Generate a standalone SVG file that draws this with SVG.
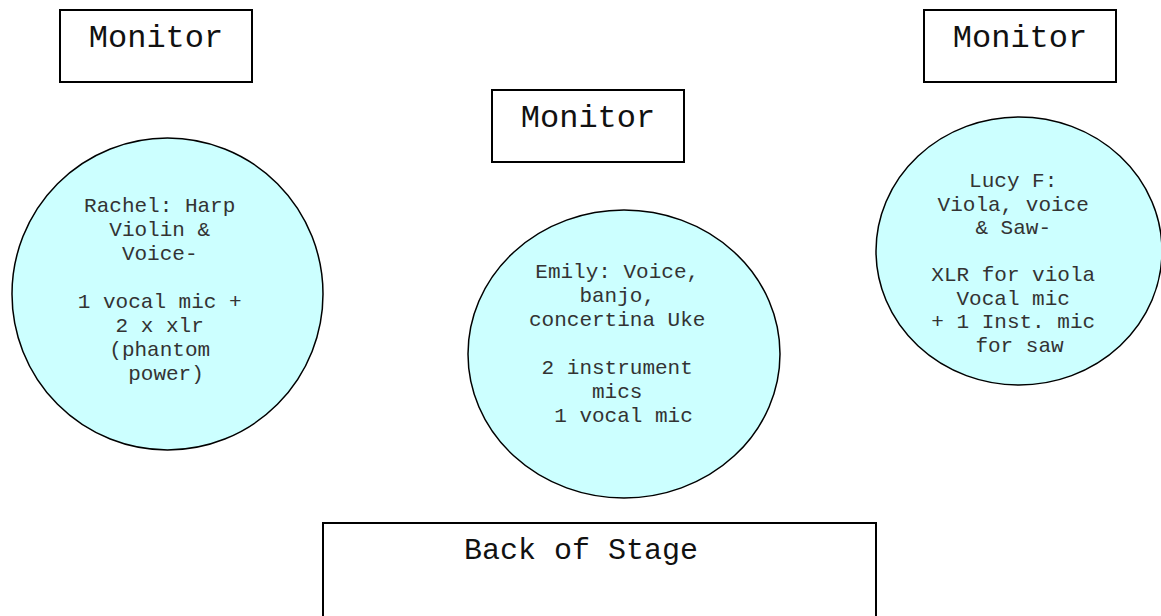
<svg xmlns="http://www.w3.org/2000/svg" width="1161" height="616" viewBox="0 0 1161 616">
<style>
.box{fill:#ffffff;stroke:#000000;stroke-width:2}
.spot{fill:#ccffff;stroke:#000000;stroke-width:1.5}
.lbl{font-family:"Liberation Mono","Courier New",monospace;text-anchor:middle;fill:#111111}
.big{font-size:32px}
.back{font-size:30px}
.small{font-size:21px;fill:#333333}
</style>
<rect width="1161" height="616" fill="#ffffff"/>
<g id="connectors"></g>
<g id="monitor-left">
<rect class="box" x="60" y="10" width="192" height="72"/>
<text class="lbl big" x="156" y="47">Monitor</text>
</g>
<g id="monitor-center">
<rect class="box" x="492" y="90" width="192" height="72"/>
<text class="lbl big" x="588" y="127">Monitor</text>
</g>
<g id="monitor-right">
<rect class="box" x="924" y="10" width="192" height="72"/>
<text class="lbl big" x="1020" y="47">Monitor</text>
</g>
<g id="rachel">
<ellipse class="spot" cx="167.5" cy="294" rx="155.5" ry="156"/>
<text class="lbl small" x="166">
<tspan x="166" y="212">Rachel: Harp</tspan>
<tspan x="166" y="236">Violin &amp;</tspan>
<tspan x="166" y="260">Voice-</tspan>
<tspan x="166" y="308">1 vocal mic +</tspan>
<tspan x="166" y="332">2 x xlr</tspan>
<tspan x="166" y="356">(phantom</tspan>
<tspan x="166" y="380">power)</tspan>
</text>
</g>
<g id="emily">
<ellipse class="spot" cx="624" cy="354" rx="156" ry="144"/>
<text class="lbl small">
<tspan x="623.5" y="278">Emily: Voice,</tspan>
<tspan x="623.5" y="302">banjo,</tspan>
<tspan x="623.5" y="326">concertina Uke</tspan>
<tspan x="623.5" y="374">2 instrument</tspan>
<tspan x="623.5" y="398">mics</tspan>
<tspan x="623.5" y="422">1 vocal mic</tspan>
</text>
</g>
<g id="lucy">
<ellipse class="spot" cx="1019" cy="251" rx="143" ry="134"/>
<text class="lbl small">
<tspan x="1019.5" y="187">Lucy F:</tspan>
<tspan x="1019.5" y="210.5">Viola, voice</tspan>
<tspan x="1019.5" y="234">&amp; Saw-</tspan>
<tspan x="1019.5" y="281">XLR for viola</tspan>
<tspan x="1019.5" y="304.5">Vocal mic</tspan>
<tspan x="1019.5" y="328">+ 1 Inst. mic</tspan>
<tspan x="1019.5" y="351.5">for saw</tspan>
</text>
</g>
<g id="back-of-stage">
<rect class="box" x="323" y="523" width="553" height="110"/>
<text class="lbl back" x="581" y="559">Back of Stage</text>
</g>
</svg>
